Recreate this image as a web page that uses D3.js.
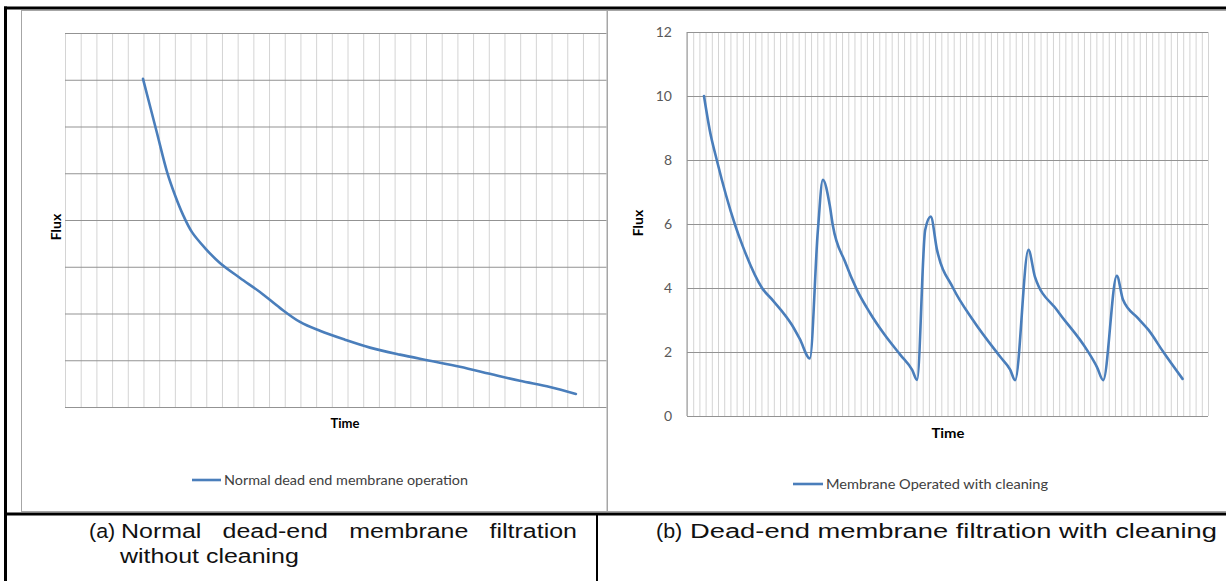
<!DOCTYPE html>
<html>
<head>
<meta charset="utf-8">
<script src="https://cdn.jsdelivr.net/npm/d3@7"></script>
<style>
  body { margin: 0; background: #fff; }
  svg { display: block; }
</style>
</head>
<body>
<svg id="fig" width="1226" height="581"></svg>
<script>
// ---- Data -------------------------------------------------------------
// (a) Flux decline without cleaning (time in run steps, flux in grid units)
const normalTime = [4.97, 5.86, 6.50, 7.01, 7.52, 8.09, 8.92, 9.87, 11.15, 12.42, 13.69, 14.97, 16.24, 17.83, 19.43, 21.34, 23.25, 25.16, 27.07, 28.98, 30.89, 32.55];
const normalFlux = [7.02, 5.86, 5.03, 4.53, 4.11, 3.74, 3.40, 3.08, 2.76, 2.46, 2.12, 1.82, 1.63, 1.44, 1.27, 1.12, 0.99, 0.86, 0.71, 0.56, 0.43, 0.28];

// (b) Flux with periodic cleaning
const cleanTime = [2.74, 3.7, 4.8, 7.7, 9.0, 12.1, 13.9, 16.9, 18.2, 19.8,
  21.1, 21.9, 23.0, 23.5, 25.5, 27.4, 29.5, 31.9, 34.4, 36.3, 37.1,
  38.4, 39.3, 40.3, 42.9, 46.1, 50.5, 52.1, 52.9,
  55.05, 56.1, 59.7, 64.5, 66.1, 67.1,
  69.3, 70.3, 72.7, 74.4, 76.8, 79.9];
const cleanFlux = [10.0, 8.9, 8.0, 6.0, 5.3, 4.0, 3.6, 2.85, 2.4, 1.8,
  5.8, 7.38, 6.6, 5.97, 4.81, 3.94, 3.22, 2.53, 1.91, 1.44, 1.13,
  5.81, 6.23, 5.2, 4.0, 3.0, 1.85, 1.45, 1.12,
  5.19, 4.35, 3.3, 2.06, 1.53, 1.12,
  4.38, 3.63, 3.06, 2.69, 2.0, 1.16];

const fluxTicks = [0, 2, 4, 6, 8, 10, 12];
const normalGridRows = d3.range(0, 9);
const normalGridCols = d3.range(0, 35);
const cleanGridCols = d3.range(0, 85);

const seriesNames = ["Normal dead end membrane operation", "Membrane Operated with cleaning"];
const axisTitles = { x: "Time", y: "Flux" };
const captionA = ["(a)", "Normal dead-end membrane filtration", "without cleaning"];
const captionB = ["(b)", "Dead-end membrane filtration with cleaning"];

// ---- Setup -------------------------------------------------------------
const svg = d3.select("#fig");
const lineColor = "#4a7ebb";
const chartFont = "Lato, 'Liberation Sans', sans-serif";
const capFont = "'Liberation Sans', Arial, sans-serif";

svg.append("rect").attr("width", 1226).attr("height", 581).attr("fill", "#fff");

// chart frames
svg.append("rect").attr("x", 21.5).attr("y", 10.5).attr("width", 585.5).attr("height", 501)
  .attr("fill", "#fff").attr("stroke", "#a6a6a6");
svg.append("rect").attr("x", 607.5).attr("y", 10.5).attr("width", 640).attr("height", 501)
  .attr("fill", "#fff").attr("stroke", "#a6a6a6");

// ---- Chart (a) ----------------------------------------------------------
const xL = d3.scaleLinear().domain([0, 34.5]).range([65, 606.5]);
const yL = d3.scaleLinear().domain([0, 8]).range([407, 33]);

const gA = svg.append("g");
// vertical minor gridlines
gA.append("g").attr("transform", `translate(0,${yL(0)})`)
  .call(d3.axisBottom(xL).tickValues(normalGridCols).tickSize(-(yL(0) - yL(8))).tickFormat(""))
  .call(g => g.select(".domain").remove())
  .call(g => g.selectAll("line").attr("stroke", "#d4d4d4"));
// horizontal major gridlines
gA.append("g").attr("transform", `translate(${xL(0)},0)`)
  .call(d3.axisLeft(yL).tickValues(normalGridRows).tickSize(-(xL(34.5) - xL(0))).tickFormat(""))
  .call(g => g.select(".domain").remove())
  .call(g => g.selectAll("line").attr("stroke", "#939393"));

const lineA = d3.line().x((d, i) => xL(normalTime[i])).y(d => yL(d)).curve(d3.curveCatmullRom.alpha(0.5));
gA.append("path").datum(normalFlux).attr("d", lineA)
  .attr("fill", "none").attr("stroke", lineColor).attr("stroke-width", 2.6)
  .attr("stroke-linejoin", "round").attr("stroke-linecap", "round");

gA.append("text").attr("x", 345).attr("y", 428).attr("text-anchor", "middle")
  .attr("font-family", chartFont).attr("font-weight", "bold").attr("font-size", 13)
  .attr("textLength", 29).attr("lengthAdjust", "spacingAndGlyphs").text(axisTitles.x);
gA.append("text").attr("transform", "translate(61,227) rotate(-90)").attr("text-anchor", "middle")
  .attr("font-family", chartFont).attr("font-weight", "bold").attr("font-size", 14)
  .text(axisTitles.y);

gA.append("line").attr("x1", 192).attr("x2", 221).attr("y1", 480).attr("y2", 480)
  .attr("stroke", lineColor).attr("stroke-width", 2.6);
gA.append("text").attr("x", 224).attr("y", 484.5)
  .attr("font-family", chartFont).attr("font-size", 12.5).attr("fill", "#404040")
  .attr("textLength", 244).attr("lengthAdjust", "spacingAndGlyphs").text(seriesNames[0]);

// ---- Chart (b) ----------------------------------------------------------
const xR = d3.scaleLinear().domain([0, 84]).range([687, 1208]);
const yR = d3.scaleLinear().domain([0, 12]).range([416, 32]);

const gB = svg.append("g");
gB.append("g").attr("transform", `translate(0,${yR(0)})`)
  .call(d3.axisBottom(xR).tickValues(cleanGridCols).tickSize(-(yR(0) - yR(12))).tickFormat(""))
  .call(g => g.select(".domain").remove())
  .call(g => g.selectAll("line").attr("stroke", "#d4d4d4"));
gB.append("g").attr("transform", `translate(${xR(0)},0)`)
  .call(d3.axisLeft(yR).tickValues(fluxTicks).tickSize(-(xR(84) - xR(0))).tickPadding(15))
  .call(g => g.select(".domain").attr("stroke", "#939393").attr("d", `M0,${yR(12)}V${yR(0)}`))
  .call(g => g.selectAll("line").attr("stroke", "#939393"))
  .call(g => g.selectAll("text").attr("font-family", chartFont).attr("font-size", 14)
    .attr("fill", "#595959"));

const lineB = d3.line().x((d, i) => xR(cleanTime[i])).y(d => yR(d)).curve(d3.curveMonotoneX);
gB.append("path").datum(cleanFlux).attr("d", lineB)
  .attr("fill", "none").attr("stroke", lineColor).attr("stroke-width", 2.6)
  .attr("stroke-linejoin", "round").attr("stroke-linecap", "round");

gB.append("text").attr("x", 948).attr("y", 438).attr("text-anchor", "middle")
  .attr("font-family", chartFont).attr("font-weight", "bold").attr("font-size", 13)
  .attr("textLength", 33).attr("lengthAdjust", "spacingAndGlyphs").text(axisTitles.x);
gB.append("text").attr("transform", "translate(643,223) rotate(-90)").attr("text-anchor", "middle")
  .attr("font-family", chartFont).attr("font-weight", "bold").attr("font-size", 14)
  .text(axisTitles.y);

gB.append("line").attr("x1", 793).attr("x2", 823).attr("y1", 484).attr("y2", 484)
  .attr("stroke", lineColor).attr("stroke-width", 2.6);
gB.append("text").attr("x", 826).attr("y", 488.5)
  .attr("font-family", chartFont).attr("font-size", 12.5).attr("fill", "#404040")
  .attr("textLength", 222).attr("lengthAdjust", "spacingAndGlyphs").text(seriesNames[1]);

// ---- Table rules -------------------------------------------------------
const rule = (x1, y1, x2, y2, w) => svg.append("line")
  .attr("x1", x1).attr("y1", y1).attr("x2", x2).attr("y2", y2)
  .attr("stroke", "#000").attr("stroke-width", w);
rule(4, 8, 1226, 8, 3);
rule(5.5, 6.5, 5.5, 581, 3);
rule(4, 514, 1226, 514, 3);
rule(597, 514, 597, 581, 2);

// ---- Captions ----------------------------------------------------------
const sx = 1.28, capSize = 19.5;
function capWord(str, x, y, scale = sx) {
  const t = svg.append("text").attr("transform", `translate(${x},${y}) scale(${scale},1)`)
    .attr("font-family", capFont).attr("font-size", capSize).attr("fill", "#111").text(str);
  return t.node().getComputedTextLength() * scale;
}
function justify(str, x0, x1, y) {
  const words = str.split(" ");
  const widths = words.map(w => {
    const t = svg.append("text").attr("font-family", capFont).attr("font-size", capSize).text(w);
    const wd = t.node().getComputedTextLength() * sx;
    t.remove();
    return wd;
  });
  const gap = (x1 - x0 - d3.sum(widths)) / (words.length - 1);
  let x = x0;
  words.forEach((w, i) => { capWord(w, x, y); x += widths[i] + gap; });
}
capWord(captionA[0], 89, 538, 1.1);
justify(captionA[1], 121, 577, 538);
capWord(captionA[2], 120, 563);
capWord(captionB[0], 656, 538, 1.1);
svg.append("text").attr("x", 690).attr("y", 538)
  .attr("font-family", capFont).attr("font-size", capSize).attr("fill", "#111")
  .attr("textLength", 527).attr("lengthAdjust", "spacingAndGlyphs").text(captionB[1]);
</script>
</body>
</html>
